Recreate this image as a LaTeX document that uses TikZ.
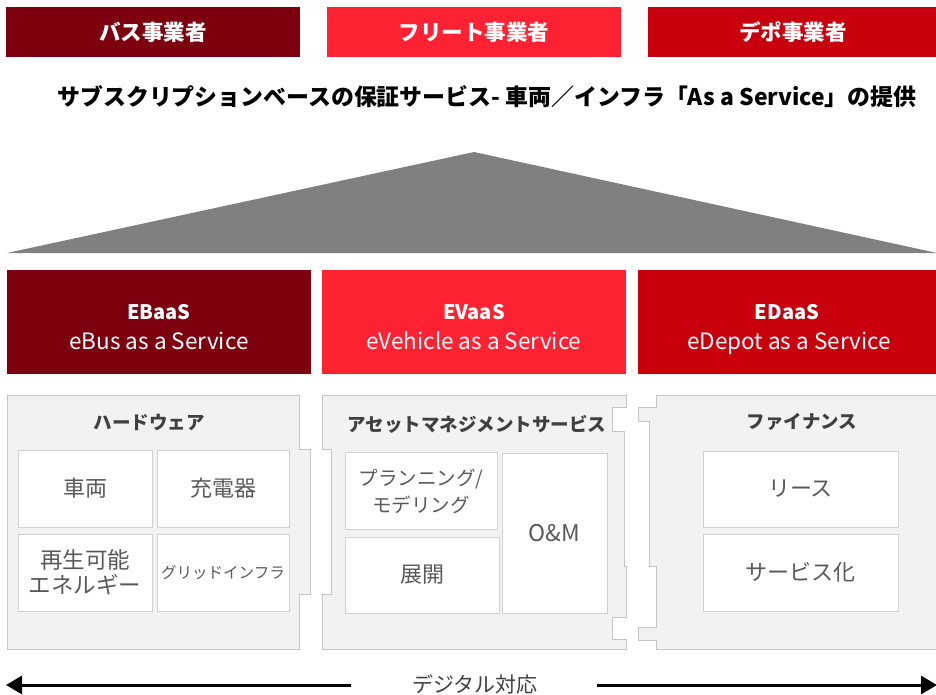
\documentclass[tikz,border=0pt]{standalone}
\usepackage{fontspec}
\setmainfont{Noto Sans CJK JP}
\usetikzlibrary{arrows.meta}
\definecolor{cMaroon}{HTML}{7C000E}
\definecolor{cBright}{HTML}{FF2232}
\definecolor{cMid}{HTML}{C8000E}
\definecolor{cTri}{HTML}{808080}
\definecolor{cPanel}{HTML}{F2F2F2}
\definecolor{cPanelLine}{HTML}{C4C4C4}
\definecolor{cBoxLine}{HTML}{D2D2D2}
\definecolor{cHead}{HTML}{404040}
\definecolor{cItem}{HTML}{595959}
\tikzset{
  topbox/.style={minimum height=50pt, inner sep=0pt, text=white, font=\fontsize{21.5}{24}\selectfont\bfseries},
  svcbox/.style={minimum height=104pt, inner sep=0pt},
  svctitle/.style={inner sep=0pt, text=white, font=\fontsize{20}{24}\selectfont\bfseries},
  svcsub/.style={inner sep=0pt, text=white, font=\fontsize{22.5}{26}\selectfont},
  panel/.style={fill=cPanel, draw=cPanelLine, line width=0.9pt},
  itembox/.style={fill=white, draw=cBoxLine, line width=0.9pt, inner sep=0pt, text=cItem, align=center, font=\fontsize{22}{24}\selectfont},
  head/.style={text=cHead, font=\fontsize{18.5}{22}\selectfont\bfseries, inner sep=0pt},
  bigarrow/.style={line width=3pt, -{Triangle[length=16pt,width=18pt]}}
}
\begin{document}
\begin{tikzpicture}[x=1pt,y=-1pt]
\useasboundingbox (0,0) rectangle (936,695);
% top boxes
\node[topbox, fill=cMaroon, minimum width=294pt] (bus) at (153,32) {バス事業者};
\node[topbox, fill=cBright, minimum width=294pt] (fleet) at (474,32) {フリート事業者};
\node[topbox, fill=cMid, minimum width=290pt] (depot) at (793,32) {デポ事業者};
% title
\node[inner sep=0pt, font=\fontsize{22.9}{26}\selectfont\bfseries] (title) at (487,97) {サブスクリプションベースの保証サービス- 車両／インフラ「As a Service」の提供};
% roof
\fill[cTri] (7,253) -- (474,152) -- (937,253) -- cycle;
% service boxes
\node[svcbox, fill=cMaroon, minimum width=304pt] (ebaas) at (159,322) {};
\node[svcbox, fill=cBright, minimum width=304pt] (evaas) at (474,322) {};
\node[svcbox, fill=cMid, minimum width=300pt] (edaas) at (788,322) {};
\node[svctitle, anchor=base] (ebaasT) at (159,319) {EBaaS};
\node[svctitle, anchor=base] (evaasT) at (474,319) {EVaaS};
\node[svctitle, anchor=base] (edaasT) at (787,319) {EDaaS};
\node[svcsub, anchor=base] (ebaasS) at (159,349) {eBus as a Service};
\node[svcsub, anchor=base] (evaasS) at (474,349) {eVehicle as a Service};
\node[svcsub, anchor=base] (edaasS) at (789,349) {eDepot as a Service};
% panels
\draw[panel] (7,395) -- (299,395) -- (299,449) -- (310.5,449) -- (310.5,594) -- (299,594) -- (299,649) -- (7,649) -- cycle;
\draw[panel] (322,395) -- (626.5,395) -- (626.5,407) -- (612,407) -- (612,431) -- (624,431) -- (624,566) -- (626.5,566) -- (626.5,617) -- (612,617) -- (612,639) -- (626.5,639) -- (626.5,649) -- (322,649) -- (322,594) -- (331.5,594) -- (331.5,449) -- (322,449) -- cycle;
\draw[panel] (656,395) -- (940,395) -- (940,649) -- (656,649) -- (656,640) -- (638,640) -- (638,627) -- (656,627) -- (656,566) -- (649,566) -- (649,421) -- (638,421) -- (638,407) -- (656,407) -- cycle;
% panel headings
\node[head] (hw) at (149,422) {ハードウェア};
\node[head] (am) at (477,424) {アセットマネジメントサービス};
\node[head] (fin) at (802,422) {ファイナンス};
% hardware items
\node[itembox, minimum width=134pt, minimum height=77pt] (veh) at (85,488.5) {車両};
\node[itembox, minimum width=132pt, minimum height=77pt] (chg) at (223,488.5) {充電器};
\node[itembox, minimum width=134pt, minimum height=77pt, font=\fontsize{22.5}{25}\selectfont] (ren) at (85,572.5) {再生可能\\エネルギー};
\node[itembox, minimum width=132pt, minimum height=77pt, font=\fontsize{15.5}{18}\selectfont] (grid) at (223,572.5) {グリッドインフラ};
% asset management items
\node[itembox, minimum width=152pt, minimum height=76.5pt, font=\fontsize{19.5}{27}\selectfont] (plan) at (421,491) {プランニング/\\モデリング};
\node[itembox, minimum width=154pt, minimum height=76pt] (dep) at (422,575) {展開};
\node[itembox, minimum width=105pt, minimum height=160pt, font=\fontsize{23}{24}\selectfont] (om) at (554.5,533) {O\&M};
% finance items
\node[itembox, minimum width=195pt, minimum height=76pt] (lease) at (800.5,489) {リース};
\node[itembox, minimum width=195pt, minimum height=77pt] (svc) at (800.5,572.5) {サービス化};
% digital arrow
\node[inner sep=0pt, text=cHead, font=\fontsize{21}{24}\selectfont] (dig) at (475,684) {デジタル対応};
\coordinate (ltip) at (6,685);
\coordinate (rtip) at (937,685);
\draw[bigarrow] ([xshift=-61pt]dig.west |- ltip) -- (ltip);
\draw[bigarrow] ([xshift=59pt]dig.east |- rtip) -- (rtip);
\end{tikzpicture}
\end{document}
